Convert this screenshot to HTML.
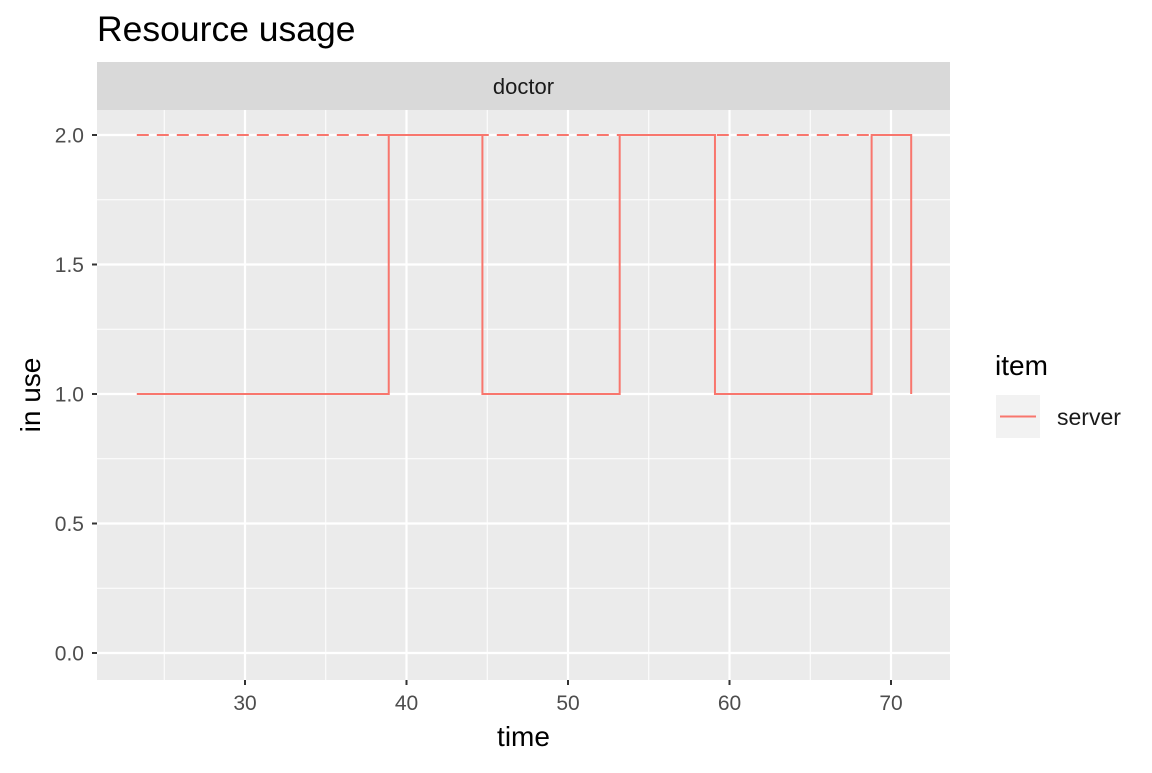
<!DOCTYPE html>
<html><head><meta charset="utf-8"><style>
body{margin:0;background:#fff;font-family:"Liberation Sans",sans-serif}
</style></head><body>
<svg id="c" width="1152" height="768" xmlns="http://www.w3.org/2000/svg" font-family="Liberation Sans, sans-serif">
<rect width="1152" height="768" fill="#fff"/>
<text x="97" y="41" font-size="35.5" fill="#000">Resource usage</text>
<rect x="97" y="62" width="853" height="48" fill="#d9d9d9"/>
<text x="523.5" y="94" font-size="22" text-anchor="middle" fill="#1a1a1a">doctor</text>
<rect x="97" y="110" width="853" height="570" fill="#ebebeb"/>
<g id="grid"></g>
<g id="marks"></g>
<g id="axes"></g>
<text x="523.5" y="746" font-size="28" text-anchor="middle">time</text>
<text transform="translate(40,395) rotate(-90)" font-size="28" text-anchor="middle">in use</text>
<text x="995" y="375" font-size="28">item</text>
<rect x="996" y="395" width="44" height="43" fill="#f2f2f2"/>
<line x1="1000" y1="416.5" x2="1036" y2="416.5" stroke="#F8766D" stroke-width="2"/>
<text x="1057" y="425" font-size="23" fill="#1a1a1a">server</text>
</svg>
<script>
const times=[23.3,38.9,44.7,53.2,59.1,68.8,71.25];
const values=[1,2,1,2,1,2,1];
const capacity=2;
const xTicks=[30,40,50,60,70];
const yTicks=[0,0.5,1,1.5,2];
const xMinor=[25,35,45,55,65];
const yMinor=[0.25,0.75,1.25,1.75];
const X=v=>245+(v-30)*16.15;
const Y=v=>653-v*259;
const ns="http://www.w3.org/2000/svg";
function mk(p,t,a){const e=document.createElementNS(ns,t);for(const k in a)e.setAttribute(k,a[k]);p.appendChild(e);return e;}
const g=document.getElementById('grid'),m=document.getElementById('marks'),ax=document.getElementById('axes');
xMinor.forEach(v=>{const l=mk(g,'line',{x1:X(v),x2:X(v),y1:110,y2:680,stroke:'#fff','stroke-width':1});

});
yMinor.forEach(v=>{const l=mk(g,'line',{x1:97,x2:950,y1:Y(v),y2:Y(v),stroke:'#fff','stroke-width':1});

});
xTicks.forEach(v=>{const l=mk(g,'line',{x1:X(v),x2:X(v),y1:110,y2:680,stroke:'#fff','stroke-width':2.2});


const t=mk(ax,'line',{x1:X(v),x2:X(v),y1:680,y2:685,stroke:'#333','stroke-width':2});


const tx=mk(ax,'text',{x:X(v),y:710,'font-size':21,'text-anchor':'middle',fill:'#4d4d4d'});tx.textContent=v;

});
yTicks.forEach(v=>{const l=mk(g,'line',{x1:97,x2:950,y1:Y(v),y2:Y(v),stroke:'#fff','stroke-width':2.2});


const t=mk(ax,'line',{x1:92,x2:97,y1:Y(v),y2:Y(v),stroke:'#333','stroke-width':2});


const tx=mk(ax,'text',{x:84,y:Y(v)+7.5,'font-size':21,'text-anchor':'end',fill:'#4d4d4d'});tx.textContent=v.toFixed(1);

});
const cap=mk(m,'line',{x1:X(times[0]),x2:X(times[times.length-1]),y1:Y(capacity),y2:Y(capacity),stroke:'#F8766D','stroke-width':2,'stroke-dasharray':'12,8'});


let d='M'+X(times[0])+','+Y(values[0]);
for(let i=1;i<times.length;i++){d+=' L'+X(times[i])+','+Y(values[i-1])+' L'+X(times[i])+','+Y(values[i]);}
const p=mk(m,'path',{d:d,fill:'none',stroke:'#F8766D','stroke-width':2});


</script>
</body></html>
